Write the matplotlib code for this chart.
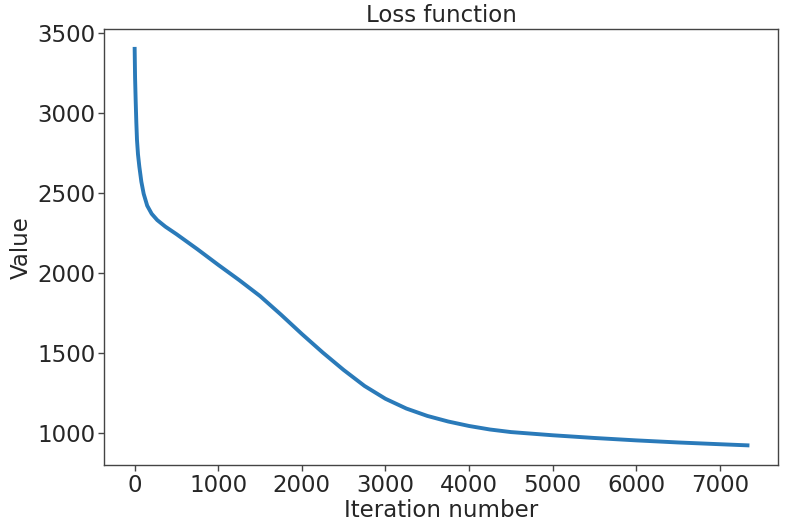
import matplotlib
matplotlib.use("Agg")
import matplotlib.pyplot as plt

# loss values
iterations = [0, 5, 12, 20, 28, 40, 56, 80, 108, 150, 204, 270, 367, 500,
              750, 1000, 1250, 1500, 1750, 2000, 2250, 2500, 2750, 3000,
              3250, 3500, 3750, 4000, 4250, 4500, 5000, 5500, 6000, 6500,
              7000, 7330]
loss = [3400, 3220, 3080, 2940, 2830, 2740, 2664, 2570, 2494, 2420, 2369,
        2330, 2289, 2242, 2148, 2050, 1955, 1855, 1739, 1618, 1502, 1393,
        1293, 1213, 1152, 1106, 1071, 1043, 1021, 1005, 985, 968, 953, 940,
        929, 922]

text_col = "#262626"
plt.rcParams["font.family"] = "DejaVu Sans"
plt.rcParams["text.color"] = text_col
plt.rcParams["axes.labelcolor"] = text_col
plt.rcParams["xtick.color"] = text_col
plt.rcParams["ytick.color"] = text_col

fig = plt.figure(figsize=(7.94, 5.28), dpi=100)
ax = fig.add_axes([0.131, 0.119, 0.849, 0.826])
ax.plot(iterations, loss, color="#2a7ab9", linewidth=2.8)

ax.set_title("Loss function", fontsize=16.5, pad=5)
ax.set_xlabel("Iteration number", fontsize=16.5, labelpad=2)
ax.set_ylabel("Value", fontsize=16.5, labelpad=3)
ax.tick_params(labelsize=16.5, length=4, width=1, pad=2, color="#444444")
ax.set_xticks(range(0, 8000, 1000))
ax.set_yticks(range(1000, 4000, 500))
for s in ax.spines.values():
    s.set_color("#444444")
    s.set_linewidth(1)

fig.savefig("out.png", dpi=100)
